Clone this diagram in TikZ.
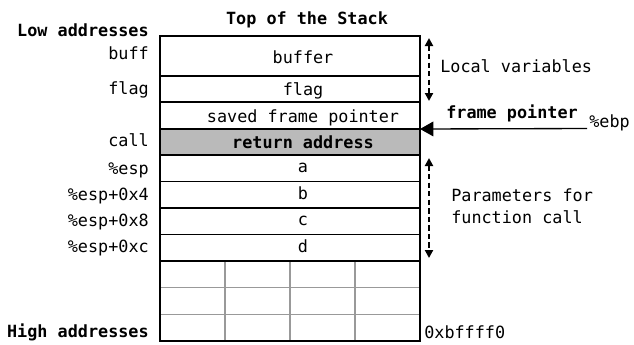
\documentclass[tikz,border=0pt]{standalone}
\usepackage{fontspec}
\setmainfont{DejaVu Sans Mono}
\usetikzlibrary{arrows.meta}
\begin{document}
\begin{tikzpicture}[x=0.75pt,y=-0.75pt,
  font=\fontsize{12.6}{15}\selectfont,
  cell/.style={draw=black, line width=1pt, inner sep=0pt, outer sep=0pt,
    minimum width=195pt, anchor=north west},
  grayfill/.style={fill=black!27},
  txt/.style={inner sep=0pt, anchor=base},
  lab/.style={inner sep=0pt, anchor=base east},
  head/.style={inner sep=0pt, anchor=base, font=\fontsize{12.6}{15}\selectfont\bfseries},
  span/.style={line width=1.5pt, dash pattern=on 4pt off 2.4pt,
    {Stealth[length=6pt,width=6pt,inset=0pt]}-{Stealth[length=6pt,width=6pt,inset=0pt]}},
  gridline/.style={draw=black!40, line width=0.8pt}]
\useasboundingbox (0,0) rectangle (634,344);

% stack cells, top to bottom
\node[cell, minimum height=30pt]   (buf)  at (160,36)  {};
\node[cell, minimum height=19.5pt] (flg)  at (160,76)  {};
\node[cell, minimum height=20.25pt](sfp)  at (160,102) {};
\node[cell, grayfill, minimum height=19.5pt] (ret) at (160,129) {};
\node[cell, minimum height=20pt]   (ca)   at (160,155) {};
\node[cell, minimum height=19.75pt](cb)   at (160,181.7) {};
\node[cell, minimum height=20pt]   (cc)   at (160,208) {};
\node[cell, minimum height=19.75pt](cd)   at (160,234.7) {};

% unused area at the bottom of the stack
\coordinate (gtl) at (160,261);
\draw[gridline] (225,261) -- (225,341) (290,261) -- (290,341) (355,261) -- (355,341)
  (160,287.7) -- (420,287.7) (160,314.3) -- (420,314.3);
\node[cell, minimum height=60pt] (free) at (gtl) {};

% cell contents
\node[txt] (tbuf) at (303,63)    {buffer};
\node[txt] (tflg) at (303,95)    {flag};
\node[txt] (tsfp) at (303,122.5) {saved frame pointer};
\node[txt, font=\fontsize{12.6}{15}\selectfont\bfseries] (tret) at (303,148.5) {return address};
\node[txt] (ta) at (303,172.5) {a};
\node[txt] (tb) at (303,199.5) {b};
\node[txt] (tc) at (303,225.5) {c};
\node[txt] (td) at (303,252.5) {d};

% headings
\node[head] (top) at (307,24) {Top of the Stack};
\node[head, anchor=base east] (low)  at (149,36)  {Low addresses};
\node[head, anchor=base east] (high) at (149,337) {High addresses};

% address labels on the left
\node[lab] (lbuff) at (149,59)    {buff};
\node[lab] (lflag) at (149,94)    {flag};
\node[lab] (lcall) at (149,146.5) {call};
\node[lab] (lesp)  at (149,174)   {\%esp};
\node[lab] (lesp4) at (149,200)   {\%esp+0x4};
\node[lab] (lesp8) at (149,226)   {\%esp+0x8};
\node[lab] (lespc) at (149,252.5) {\%esp+0xc};

\node[txt, anchor=base west] (addr) at (424,338) {0xbffff0};

% extents of local variables and parameters
\coordinate (lv1) at (429,38);
\coordinate (lv2) at (429,101);
\draw[span] (lv1) -- (lv2);
\node[txt, anchor=base west] (lvar) at (440,72) {Local variables};

\coordinate (pa1) at (429,158);
\coordinate (pa2) at (429,258);
\draw[span] (pa1) -- (pa2);
\node[txt, anchor=base west] (par) at (451,201.5) {Parameters for};
\node[txt, anchor=base west] (par2) at (451,223) {function call};

% frame pointer
\coordinate (ebpend) at (587,128.5);
\draw[line width=1pt, -{Triangle[length=10pt,width=11pt]}] (ebpend) -- (ret.north east);
\node[head, anchor=base west] (fp) at (446,118) {frame pointer};
\node[txt, anchor=base west] (ebp) at (589,127) {\%ebp};
\end{tikzpicture}
\end{document}
